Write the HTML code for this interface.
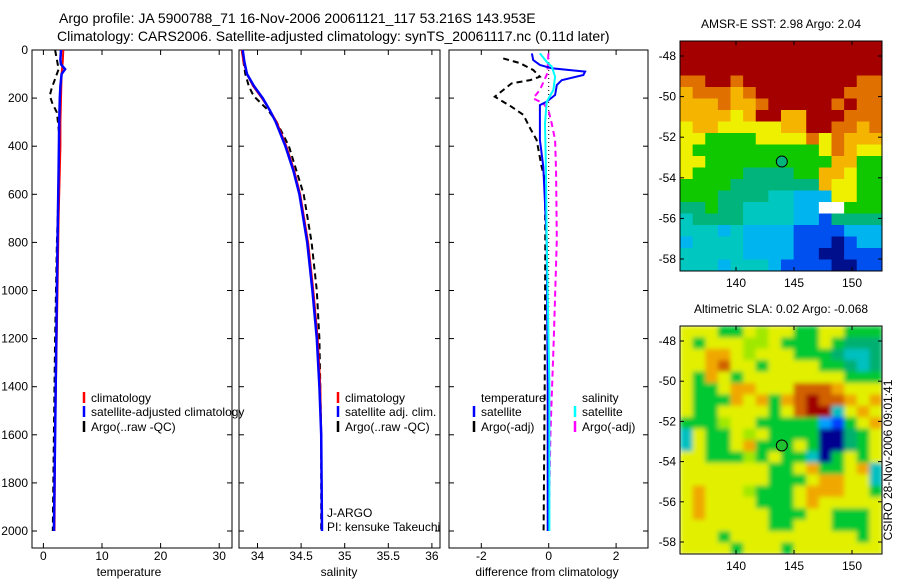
<!DOCTYPE html>
<html><head><meta charset="utf-8">
<style>
body{margin:0;background:#fff;}
svg{display:block;font-family:"Liberation Sans",sans-serif;}
text{fill:#000;}
</style></head>
<body>
<svg id="fig" width="900" height="580" viewBox="0 0 900 580" xmlns="http://www.w3.org/2000/svg">
<defs>
<clipPath id="clipSla"><rect x="680" y="326" width="202" height="228"/></clipPath>
<filter id="blurSla" x="-5%" y="-5%" width="110%" height="110%"><feGaussianBlur stdDeviation="2.5" edgeMode="duplicate"/></filter>
</defs>
<rect width="900" height="580" fill="#fff"/>
<text x="59" y="23" font-size="14">Argo profile: JA 5900788_71 16-Nov-2006 20061121_117 53.216S 143.953E</text>
<text x="57" y="41" font-size="14">Climatology: CARS2006. Satellite-adjusted climatology: synTS_20061117.nc (0.11d later)</text>
<g id="layer"></g>
</svg>
<script>
// ---- profile data ----
const tClimP=[0,50,100,200,300,400,500,700,1000,1300,1600,2000];
const tClimV=[3.4,3.3,3.1,3.0,2.9,2.9,2.8,2.6,2.4,2.2,2.0,1.9];
const tSatP=[0,40,60,80,100,150,200,300,500,800,1200,1600,2000];
const tSatV=[3.0,2.9,3.0,3.7,3.1,2.9,2.8,2.7,2.6,2.4,2.2,2.0,1.8];
const tArgoP=[0,40,80,120,160,190,220,260,350,500,800,1200,1600,2000];
const tArgoV=[2.0,2.3,2.6,2.0,1.4,1.1,1.5,2.3,2.7,2.7,2.3,2.0,1.8,1.6];
const sClimP=[0,50,100,150,200,250,300,400,500,600,800,1000,1200,1400,1600,2000];
const sClimV=[33.82,33.84,33.88,33.95,34.05,34.14,34.22,34.33,34.42,34.49,34.58,34.64,34.69,34.72,34.73,34.74];
const sSatV=[33.83,33.85,33.88,33.96,34.06,34.14,34.21,34.32,34.41,34.48,34.57,34.63,34.68,34.71,34.73,34.74];
const sArgoP=[0,50,100,150,180,200,250,300,400,600,800,1000,1200,1400,1600,2000];
const sArgoV=[33.82,33.84,33.86,33.9,33.94,33.98,34.12,34.22,34.36,34.53,34.62,34.68,34.71,34.72,34.73,34.73];
const dTSatP=[14,42,62,76,90,104,125,146,187,215,229,374,485,790,1400,2000];
const dTSatV=[-0.5,-0.46,-0.26,0.09,1.08,1.03,0.39,0.24,0.19,-0.06,-0.26,-0.26,-0.16,-0.06,-0.03,-0.03];
const dTArgoP=[35,55,83,111,125,139,194,236,270,326,374,485,540,800,1400,2000];
const dTArgoV=[-1.35,-0.85,-0.46,-0.26,-0.55,-1.1,-1.6,-1.1,-0.75,-0.55,-0.36,-0.21,-0.11,-0.1,-0.12,-0.15];
const dSSatP=[14,49,69,111,166,215,305,512,790,1400,2000];
const dSSatV=[-0.26,-0.06,0.09,0.19,0.14,-0.06,-0.11,-0.08,-0.06,0.02,0.02];
const dSArgoP=[14,97,166,201,222,250,305,374,512,790,1200,1600,2000];
const dSArgoV=[-0.01,-0.04,-0.26,-0.46,-0.16,-0.01,0.09,0.19,0.22,0.24,0.15,0.05,0.0];
// ---- tick labels ----
const pTicks=[0,200,400,600,800,1000,1200,1400,1600,1800,2000];
const tTicks=[0,10,20,30];
const sTicks=[34,34.5,35,35.5,36];
const sTickLabels=["34","34.5","35","35.5","36"];
const dTicks=[-2,0,2];
const lonTicks=[140,145,150];
const latTicks=[-48,-50,-52,-54,-56,-58];
// ---- map data (colour level per cell, rows north->south) ----
const sstGrid=["AAAAAAAAAAAAAAAA","AAAAAAAAAAAAAAAA","AAAAAAAAAAAAAAAA","99AA9AAAAAAAAA99","899989AAAAAAA999","8889889AAAAA9A99","888878AA88AAA999","7887777788AA9989","7755557777979888","7555555555579877","7755555555558855","7555544445588755","5555444444487755","5554444332227755","44544333322WW555","3444433332214444","3332322221111222","2333322221110122","3333322221100111","3332333211110011"];
const slaGrid=["7775576775577555","7577766755575444","7788767775554334","7789775777755434","7587577777777555","7557887779998777","7555878589A99878","7557777579AA3787","5556775555521578","3755767555500457","3755785557500457","7755565755305757","7777777557855783","7777777555788773","7877765557888775","7877775557877777","7877777555775557","7777777557775557","7775777777777757","7777577757777777"];
const sstColors={"0":"#00108c","1":"#0050f0","2":"#00b4f0","3":"#00c8c0","4":"#00b47c","5":"#10c800","6":"#9ee000","7":"#eef000","8":"#f4b400","9":"#e07000","A":"#a40000","W":"#ffffff"};
const slaColors={"0":"#000090","1":"#0040ff","2":"#00a0ff","3":"#00c0c0","4":"#00b070","5":"#00c832","6":"#a0e800","7":"#e2f000","8":"#f0a800","9":"#d06000","A":"#a00000"};

const NS="http://www.w3.org/2000/svg";
const layer=document.getElementById('layer');
function mk(tag,attrs,parent){const e=document.createElementNS(NS,tag);for(const k in attrs)e.setAttribute(k,attrs[k]);(parent||layer).appendChild(e);return e;}

const yTop=50,yBot=548;
const pY=p=>50+p*0.2405;
const panels=[
 {x0:32,x1:232,fx:v=>43.4+v*5.86,name:'temperature'},
 {x0:239,x1:440,fx:v=>257.5+(v-34)*87.2,name:'salinity'},
 {x0:449,x1:648,fx:v=>548.7+v*33.7,name:'difference'}
];
function line(P,V,fx,color,w,dash,name){
  const pts=P.map((p,i)=>fx(V[i]).toFixed(1)+','+pY(p).toFixed(1)).join(' ');
  const e=mk('polyline',{points:pts,fill:'none',stroke:color,'stroke-width':w});
  if(dash)e.setAttribute('stroke-dasharray',dash);
  
  
}
panels.forEach((pn,i)=>{
  const g=mk('rect',{x:pn.x0,y:yTop,width:pn.x1-pn.x0,height:yBot-yTop,fill:'none',stroke:'#000','stroke-width':1});
  
  
  pTicks.forEach(p=>{
    mk('line',{x1:pn.x0,x2:pn.x0+5,y1:pY(p),y2:pY(p),stroke:'#000'});
    mk('line',{x1:pn.x1,x2:pn.x1-5,y1:pY(p),y2:pY(p),stroke:'#000'});
  });
});
pTicks.forEach(p=>{
  const t=mk('text',{x:28,y:pY(p)+4,'font-size':12,'text-anchor':'end'});
  t.textContent=p;
  
  
});
function xticks(pn,vals,labels){
  vals.forEach((v,i)=>{
    const x=pn.fx(v);
    mk('line',{x1:x,x2:x,y1:yBot,y2:yBot-5,stroke:'#000'});
    mk('line',{x1:x,x2:x,y1:yTop,y2:yTop+5,stroke:'#000'});
    const t=mk('text',{x:x,y:560,'font-size':12,'text-anchor':'middle'});
    t.textContent=labels?labels[i]:v;
    
    
  });
}
xticks(panels[0],tTicks);xticks(panels[1],sTicks,sTickLabels);xticks(panels[2],dTicks);
[["temperature",129],["salinity",339],["difference from climatology",547]].forEach(a=>{
  const t=mk('text',{x:a[1],y:576,'font-size':12,'text-anchor':'middle'});
  t.textContent=a[0];
  
  
});
// panel 1
line(tArgoP,tArgoV,panels[0].fx,'#000',2,'6,4','temp-argo-line');
line(tClimP,tClimV,panels[0].fx,'#f00',2,null,'temp-climatology-line');
line(tSatP,tSatV,panels[0].fx,'#0000ff',2.5,null,'temp-satellite-line');
// panel 2
line(sArgoP,sArgoV,panels[1].fx,'#000',2,'6,4','sal-argo-line');
line(sClimP,sClimV,panels[1].fx,'#f00',2,null,'sal-climatology-line');
line(sClimP,sSatV,panels[1].fx,'#0000ff',2.5,null,'sal-satellite-line');
// panel 3
line([0,2000],[0,0],panels[2].fx,'#000',1,'1,3','zero-line');
line(dTArgoP,dTArgoV,panels[2].fx,'#000',2,'6,4','dtemp-argo-line');
line(dSArgoP,dSArgoV,panels[2].fx,'#f0f',2,'6,4','dsal-argo-line');
line(dTSatP,dTSatV,panels[2].fx,'#0000ff',2,null,'dtemp-satellite-line');
line(dSSatP,dSSatV,panels[2].fx,'#00ffff',2,null,'dsal-satellite-line');
// legends
function leg(x,y,color,label,name){
  if(color)mk('line',{x1:x,x2:x,y1:y-10,y2:y+1,stroke:color,'stroke-width':2.5});
  const t=mk('text',{x:x+7,y:y,'font-size':12});
  t.textContent=label;
  
  
}
leg(84,402,'#f00','climatology','legend-climatology');
leg(84,416,'#0000ff','satellite-adjusted climatology','legend-satellite');
leg(84,431,'#000','Argo(..raw -QC)','legend-argo');
leg(338,402,'#f00','climatology','legend-climatology-sal');
leg(338,416,'#0000ff','satellite adj. clim.','legend-satellite-sal');
leg(338,431,'#000','Argo(..raw -QC)','legend-argo-sal');
leg(474,402,null,'temperature','legend-temp-header');
leg(474,416,'#0000ff','satellite','legend-temp-satellite');
leg(474,431,'#000','Argo(-adj)','legend-temp-argo');
leg(575,402,null,'salinity','legend-sal-header');
leg(575,416,'#00ffff','satellite','legend-sal-satellite');
leg(575,431,'#f0f','Argo(-adj)','legend-sal-argo');
[["J-ARGO",517],["PI: kensuke Takeuchi",531]].forEach(a=>{
  const t=mk('text',{x:327,y:a[1],'font-size':12});
  t.textContent=a[0];
  
  
});
// maps
function map(grid,colors,top,bot,title,name,smooth){
  const x0=680,x1=882;
  const lonX=l=>736+(l-140)*11.6;
  const latY=l=>top+15+(-48-l)*(bot-top-27)/10;
  const rows=grid.length,cols=grid[0].length;
  const cw=(x1-x0)/cols,ch=(bot-top)/rows;
  let cg=layer;
  if(smooth){
    const outer=mk('g',{'clip-path':'url(#clipSla)'});
    cg=mk('g',{filter:'url(#blurSla)'},outer);
  }
  grid.forEach((row,r)=>{for(let c=0;c<cols;c++){
    const e=mk('rect',{x:(x0+c*cw).toFixed(2),y:(top+r*ch).toFixed(2),width:(cw+0.5).toFixed(2),height:(ch+0.5).toFixed(2),fill:colors[row[c]]},cg);
    
    
  }});
  const f=mk('rect',{x:x0,y:top,width:x1-x0,height:bot-top,fill:'none',stroke:'#000'});
  
  
  lonTicks.forEach(l=>{
    const x=lonX(l);
    mk('line',{x1:x,x2:x,y1:bot,y2:bot-4,stroke:'#000'});
    mk('line',{x1:x,x2:x,y1:top,y2:top+4,stroke:'#000'});
    const t=mk('text',{x:x,y:bot+16,'font-size':12,'text-anchor':'middle'});
    t.textContent=l;
    
    
  });
  latTicks.forEach(l=>{
    const y=latY(l);
    mk('line',{x1:x0,x2:x0+4,y1:y,y2:y,stroke:'#000'});
    mk('line',{x1:x1,x2:x1-4,y1:y,y2:y,stroke:'#000'});
    const t=mk('text',{x:676,y:y+4,'font-size':12,'text-anchor':'end'});
    t.textContent=l;
    
    
  });
  const c=mk('circle',{cx:lonX(143.95),cy:latY(-53.2),r:5.5,fill:name==='sst-map'?'#00b47c':'#20c030',stroke:'#000','stroke-width':1});
  
  
  const t=mk('text',{x:781,y:top-13,'font-size':12,'text-anchor':'middle'});
  t.textContent=title;
  
  
}
map(sstGrid,sstColors,41,271,'AMSR-E SST: 2.98 Argo: 2.04','sst-map',false);
map(slaGrid,slaColors,326,554,'Altimetric SLA: 0.02 Argo: -0.068','sla-map',true);
const ct=mk('text',{x:0,y:0,'font-size':12,'text-anchor':'middle',transform:'translate(892,460) rotate(-90)'});
ct.textContent='CSIRO 28-Nov-2006 09:01:41';


</script>
</body></html>
